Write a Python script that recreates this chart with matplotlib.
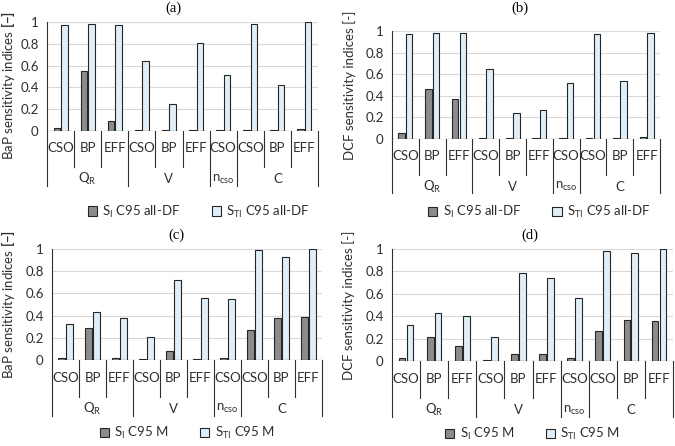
import numpy as np
import matplotlib
matplotlib.use("Agg")
import matplotlib.pyplot as plt

plt.rcParams['font.family'] = ['Lato', 'DejaVu Sans']
plt.rcParams['mathtext.fontset'] = 'custom'
plt.rcParams['mathtext.rm'] = 'Lato'
plt.rcParams['mathtext.bf'] = 'Lato:bold'

# categories
outputs = ['CSO', 'BP', 'EFF', 'CSO', 'BP', 'EFF', 'CSO', 'CSO', 'BP', 'EFF']
groups = ['Q$_{\\mathregular{R}}$', 'V', 'n$_{\\mathregular{cso}}$', 'C']
group_sizes = [3, 3, 1, 3]

# (a) BaP, all-DF
si_a = [0.03, 0.55, 0.09, 0.005, 0.005, 0.005, 0.005, 0.005, 0.005, 0.02]
st_a = [0.97, 0.98, 0.97, 0.64, 0.25, 0.81, 0.51, 0.98, 0.42, 1.0]
# (b) DCF, all-DF
si_b = [0.06, 0.46, 0.37, 0.005, 0.005, 0.005, 0.005, 0.005, 0.005, 0.015]
st_b = [0.97, 0.98, 0.98, 0.65, 0.24, 0.27, 0.52, 0.97, 0.54, 0.98]
# (c) BaP, M
si_c = [0.015, 0.29, 0.015, 0.005, 0.08, 0.005, 0.015, 0.27, 0.38, 0.39]
st_c = [0.32, 0.43, 0.38, 0.21, 0.72, 0.56, 0.55, 0.99, 0.93, 1.0]
# (d) DCF, M
si_d = [0.025, 0.21, 0.13, 0.005, 0.06, 0.06, 0.025, 0.27, 0.37, 0.36]
st_d = [0.32, 0.43, 0.40, 0.21, 0.79, 0.74, 0.56, 0.98, 0.96, 1.0]

W, H = 675, 446
fig = plt.figure(figsize=(6.75, 4.46), dpi=100)

txt = '#2e2e2e'
dark = '#303030'
fs = 9.5

def px_axes(x0, x1, ytop, y0):
    return fig.add_axes([x0 / W, 1 - y0 / H, (x1 - x0) / W, (y0 - ytop) / H])

def panel(ax, si, st, ylabel, ylab_xy, title, tx, ty, leg_txt, legx, legy):
    x = np.arange(len(outputs))
    ax.bar(x - 0.14, si, 0.24, color='#8c8c8c', edgecolor='#262626', lw=0.8,
           label='S$_{\\mathregular{I}}$ ' + leg_txt, zorder=3)
    ax.bar(x + 0.14, st, 0.24, color='#e0eef9', edgecolor='#262626', lw=0.8,
           label='S$_{\\mathregular{TI}}$ ' + leg_txt, zorder=3)
    ax.set_xlim(-0.5, len(outputs) - 0.5)
    ax.set_ylim(0, 1)
    ax.set_yticks([0, 0.2, 0.4, 0.6, 0.8, 1])
    ax.set_yticklabels(['0', '0.2', '0.4', '0.6', '0.8', '1'])
    ax.tick_params(axis='y', length=0, labelsize=fs, labelcolor=txt, pad=6)
    ax.set_xticks([])
    for yv in [0.2, 0.4, 0.6, 0.8, 1.0]:
        ax.axhline(yv, color='#d9d9d9', lw=0.8, zorder=1)
    for s in ['top', 'bottom', 'right']:
        ax.spines[s].set_visible(False)
    ax.spines['left'].set_color(dark)
    ax.spines['left'].set_linewidth(0.8)
    ax.plot([1.0, 1.0], [0, 1], transform=ax.transAxes, color='#d9d9d9', lw=0.8)
    ax.axhline(0, color=dark, lw=0.8, zorder=4)
    tr = ax.get_xaxis_transform()
    # output labels and separators
    for i, lab in enumerate(outputs):
        ax.text(i, -0.16, lab, transform=tr, ha='center', va='center',
                fontsize=fs, color=txt)
    bounds = np.cumsum([0] + group_sizes) - 0.5
    for k in range(len(outputs) + 1):
        xb = k - 0.5
        yb = -0.5 if xb in bounds else -0.33
        ax.plot([xb, xb], [0, yb], transform=tr, color=dark, lw=0.8, clip_on=False)
    for g, a, b in zip(groups, bounds[:-1], bounds[1:]):
        ax.text((a + b) / 2, -0.44, g, transform=tr, ha='center', va='center',
                fontsize=fs, color=txt)
    ax.set_ylabel(ylabel, fontsize=9.5, color=txt)
    ax.yaxis.set_label_coords(*ylab_xy)
    fig.text(tx / W, 1 - ty / H, title, ha='center', va='center',
             fontsize=10.5, family='Liberation Serif')
    ax.legend(loc='center', bbox_to_anchor=(legx, legy), ncol=2, frameon=False,
              fontsize=fs, handlelength=0.7, handleheight=0.7,
              handletextpad=0.4, columnspacing=2.4, labelcolor=txt)

ax_a = px_axes(47, 318, 22, 131)
panel(ax_a, si_a, st_a, 'BaP sensitivity indices $\\mathbf{[-]}$', (-0.11, 0.42),
      '(a)', 173, 8, 'C95 all-DF', 0.56, -0.74)
ax_b = px_axes(392, 660, 31, 139)
panel(ax_b, si_b, st_b, 'DCF sensitivity indices [-]', (-0.135, 0.5),
      '(b)', 520, 8, 'C95 all-DF', 0.55, -0.68)
ax_c = px_axes(52, 322, 249, 360)
panel(ax_c, si_c, st_c, 'BaP sensitivity indices $\\mathbf{[-]}$', (-0.128, 0.5),
      '(c)', 176, 235, 'C95 M', 0.5, -0.66)
ax_d = px_axes(392, 673, 249, 361)
panel(ax_d, si_d, st_d, 'DCF sensitivity indices [-]', (-0.13, 0.5),
      '(d)', 530, 235, 'C95 M', 0.5, -0.65)

fig.savefig('out.png', dpi=100)
